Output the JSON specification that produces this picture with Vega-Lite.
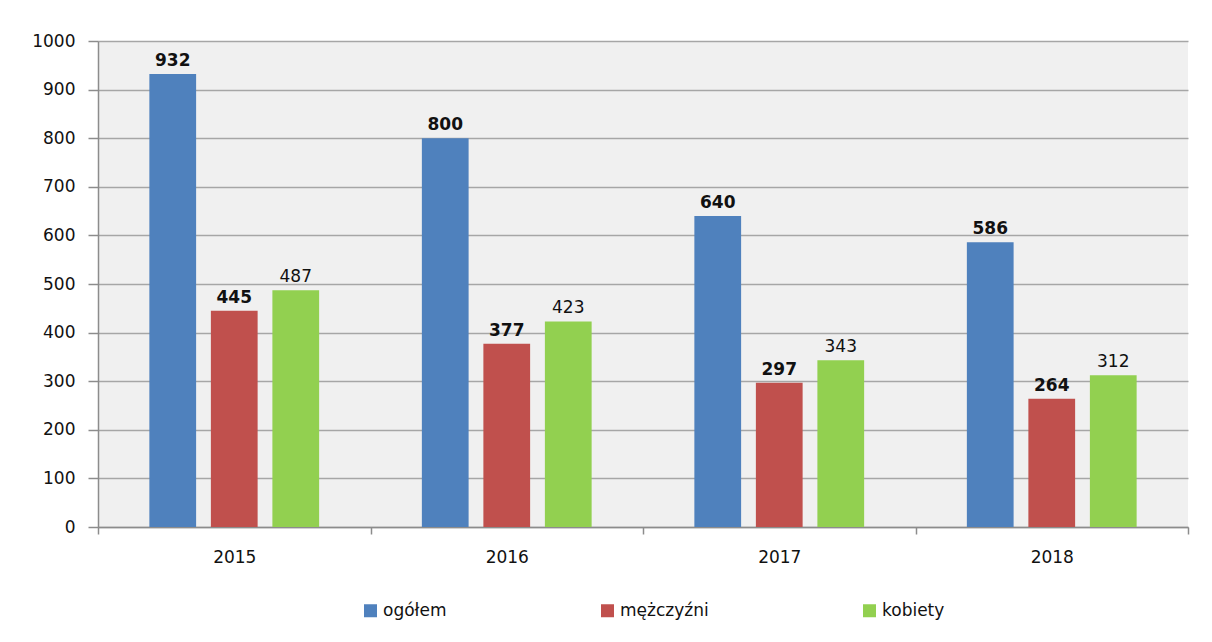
{
  "$schema": "https://vega.github.io/schema/vega-lite/v6.json",
  "autosize": {"type": "none"},
  "width": 1090,
  "height": 486,
  "padding": {"left": 98, "top": 41, "right": 24, "bottom": 115},
  "background": "white",
  "config": {
    "font": "DejaVu Sans",
    "view": {"fill": "#f0f0f0", "stroke": null}
  },
  "data": {
    "values": [
      {"year": "2015", "series": "ogółem", "value": 932},
      {"year": "2015", "series": "mężczyźni", "value": 445},
      {"year": "2015", "series": "kobiety", "value": 487},
      {"year": "2016", "series": "ogółem", "value": 800},
      {"year": "2016", "series": "mężczyźni", "value": 377},
      {"year": "2016", "series": "kobiety", "value": 423},
      {"year": "2017", "series": "ogółem", "value": 640},
      {"year": "2017", "series": "mężczyźni", "value": 297},
      {"year": "2017", "series": "kobiety", "value": 343},
      {"year": "2018", "series": "ogółem", "value": 586},
      {"year": "2018", "series": "mężczyźni", "value": 264},
      {"year": "2018", "series": "kobiety", "value": 312}
    ]
  },
  "encoding": {
    "x": {"field": "year", "type": "nominal", "scale": {"paddingInner": 0, "paddingOuter": 0},
      "axis": {"title": null, "labelAngle": 0, "labelPadding": 15, "tickBand": "extent", "tickSize": 7, "grid": false,
        "labelFont": "DejaVu Sans", "labelFontSize": 17, "labelColor": "#111", "domainColor": "#8c8c8c", "tickColor": "#8c8c8c", "domainWidth": 1.5, "tickWidth": 1.5}},
    "xOffset": {"field": "series", "type": "nominal", "sort": ["ogółem", "mężczyźni", "kobiety"],
      "scale": {"paddingInner": 0.24, "paddingOuter": 0.835}},
    "y": {"field": "value", "type": "quantitative", "scale": {"domain": [0, 1000]},
      "axis": {"title": null, "values": [0,100,200,300,400,500,600,700,800,900,1000], "format": "d", "labelOverlap": false,
        "gridColor": "#a6a6a6", "gridWidth": 1.5, "tickSize": 10, "labelPadding": 13,
        "labelFont": "DejaVu Sans", "labelFontSize": 17, "labelColor": "#111", "domainColor": "#8c8c8c", "tickColor": "#8c8c8c", "domainWidth": 1.5, "tickWidth": 1.5}}
  },
  "layer": [
    {
      "mark": {"type": "bar"},
      "encoding": {
        "color": {"field": "series", "type": "nominal", "sort": ["ogółem", "mężczyźni", "kobiety"],
          "scale": {"domain": ["ogółem", "mężczyźni", "kobiety"], "range": ["#4f81bd", "#c0504d", "#92d050"]},
          "legend": {"title": null, "orient": "none", "legendX": 264, "legendY": 561, "direction": "horizontal", "symbolType": "square", "symbolSize": 169, "symbolStrokeWidth": 0, "symbolOpacity": 1, "labelFont": "DejaVu Sans", "labelFontSize": 17, "labelColor": "#111", "columnPadding": 152, "labelOffset": 4}
        }
      }
    },
    {
      "transform": [{"filter": "datum.series !== 'kobiety'"}],
      "mark": {"type": "text", "baseline": "alphabetic", "dy": -8, "fontSize": 17, "fontWeight": "bold", "color": "#111"},
      "encoding": {"text": {"field": "value", "type": "quantitative"}}
    },
    {
      "transform": [{"filter": "datum.series === 'kobiety'"}],
      "mark": {"type": "text", "baseline": "alphabetic", "dy": -8, "fontSize": 17, "fontWeight": "normal", "color": "#111"},
      "encoding": {"text": {"field": "value", "type": "quantitative"}}
    }
  ]
}
